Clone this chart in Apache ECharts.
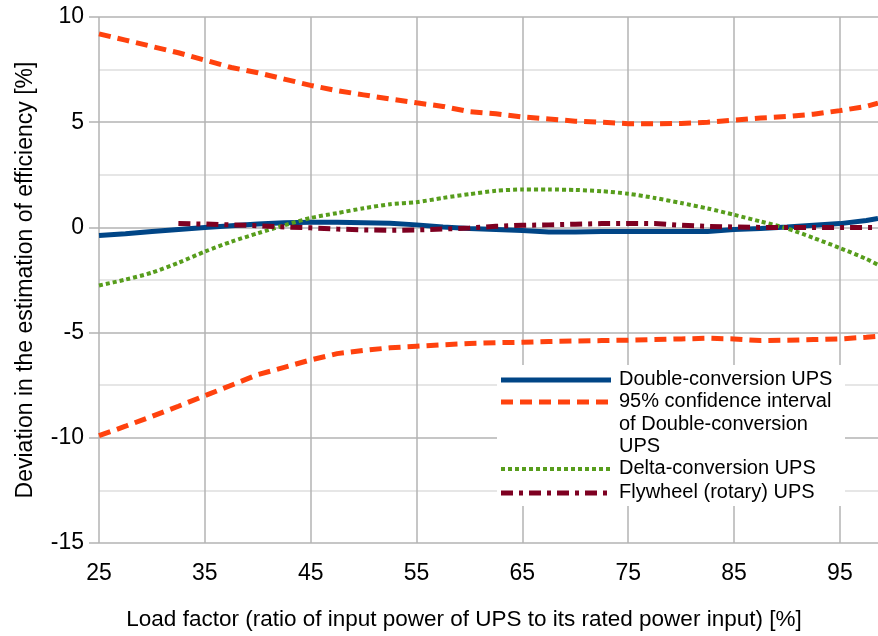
<!DOCTYPE html>
<html>
<head>
<meta charset="utf-8">
<script src="https://cdn.jsdelivr.net/npm/echarts@6/dist/echarts.min.js"></script>
<style>
  html, body { margin: 0; padding: 0; background: #fff; }
  #chart { width: 878px; height: 636px; }
</style>
</head>
<body>
<div id="chart"></div>
<script>
// load factor [%] sampled along the x axis
var loadFactor = [25, 27.5, 30, 32.5, 35, 37.5, 40, 42.5, 45, 47.5, 50, 52.5, 55, 57.5, 60, 62.5,
  65, 67.5, 70, 72.5, 75, 77.5, 80, 82.5, 85, 87.5, 90, 92.5, 95, 97.5, 98.6]

// deviation in the estimation of efficiency [%]
var doubleConv = [-0.38, -0.3, -0.2, -0.1, 0.0, 0.08, 0.16, 0.22, 0.24, 0.24, 0.22, 0.2, 0.12, 0.02, -0.05, -0.1,
  -0.15, -0.22, -0.22, -0.2, -0.2, -0.2, -0.2, -0.2, -0.1, -0.05, 0.02, 0.1, 0.18, 0.33, 0.43]
var ciUpper = [9.2, 8.9, 8.6, 8.3, 7.95, 7.6, 7.35, 7.05, 6.75, 6.5, 6.3, 6.1, 5.92, 5.75, 5.5, 5.4,
  5.25, 5.15, 5.05, 5.0, 4.93, 4.93, 4.94, 5.0, 5.1, 5.2, 5.27, 5.38, 5.55, 5.75, 5.9]
var ciLower = [-9.9, -9.45, -8.98, -8.5, -8.0, -7.5, -7.0, -6.65, -6.3, -6.0, -5.85, -5.72, -5.65, -5.58, -5.52, -5.48,
  -5.46, -5.42, -5.4, -5.38, -5.36, -5.33, -5.3, -5.27, -5.3, -5.38, -5.36, -5.33, -5.3, -5.22, -5.18]
var deltaConv = [-2.76, -2.48, -2.15, -1.68, -1.15, -0.68, -0.28, 0.1, 0.45, 0.68, 0.91, 1.1, 1.2, 1.4, 1.58, 1.74,
  1.8, 1.8, 1.78, 1.72, 1.6, 1.4, 1.16, 0.9, 0.6, 0.28, -0.05, -0.5, -0.98, -1.5, -1.78]
var flywheel = [null, null, null, 0.18, 0.16, 0.12, 0.08, 0.02, -0.02, -0.08, -0.12, -0.14, -0.12, -0.08, -0.03, 0.05,
  0.1, 0.12, 0.15, 0.18, 0.19, 0.18, 0.1, 0.05, 0.02, 0.0, 0.0, 0.0, 0.0, 0.0, 0.0]

var yTicks = { min: -15, max: 10, step: 5 }
var xTicks = { min: 25, max: 98.6, step: 10 }

var names = {
  dc: 'Double-conversion UPS',
  ci: '95% confidence interval of Double-conversion UPS',
  delta: 'Delta-conversion UPS',
  fly: 'Flywheel (rotary) UPS'
}

var styles = {
  dc: { color: '#004586', width: 5, dash: 'solid' },
  ci: { color: '#ff420e', width: 5, dash: [12, 7] },
  delta: { color: '#579d1c', width: 4, dash: [4, 3] },
  fly: { color: '#7e0021', width: 5, dash: [12, 6, 4, 6] }
}

function pairs (ys) {
  var out = []
  for (var i = 0; i < loadFactor.length; i++) {
    if (ys[i] !== null) out.push([loadFactor[i], ys[i]])
  }
  return out
}

function lineSeries (name, ys, st, smooth) {
  return {
    name: name,
    type: 'line',
    symbol: 'none',
    smooth: smooth || false,
    data: pairs(ys),
    lineStyle: { color: st.color, width: st.width, type: st.dash, cap: 'butt' },
    itemStyle: { color: st.color },
    silent: true
  }
}

// legend drawn by hand so the wrapped entry keeps its key on the first line
var legendRows = [
  { key: 'dc', text: 'Double-conversion UPS', y: 380 },
  { key: 'ci', text: '95% confidence interval\nof Double-conversion\nUPS', y: 402 },
  { key: 'delta', text: 'Delta-conversion UPS', y: 469 },
  { key: 'fly', text: 'Flywheel (rotary) UPS', y: 493 }
]

var legendGraphics = [{
  type: 'rect',
  shape: { x: 497, y: 365, width: 348, height: 141 },
  style: { fill: '#fff' },
  z: 100
}]
legendRows.forEach(function (r) {
  var st = styles[r.key]
  legendGraphics.push({
    type: 'line',
    shape: { x1: 501, y1: r.y, x2: 611, y2: r.y },
    style: { stroke: st.color, lineWidth: st.width, lineDash: st.dash === 'solid' ? null : st.dash, lineCap: 'butt' },
    z: 101
  })
  legendGraphics.push({
    type: 'text',
    x: 619,
    y: r.y - 11.5,
    style: {
      text: r.text,
      fontSize: 20,
      fontFamily: 'Liberation Sans',
      fill: '#000',
      lineHeight: 22.5,
      verticalAlign: 'top'
    },
    z: 101
  })
})

var chart = echarts.init(document.getElementById('chart'))

var option = {
  animation: false,
  textStyle: { fontFamily: 'Liberation Sans' },
  grid: { left: 99, right: 0, top: 17, bottom: 93, containLabel: false },
  xAxis: {
    type: 'value',
    min: xTicks.min,
    max: xTicks.max,
    interval: xTicks.step,
    axisLine: { show: false },
    axisTick: { show: false },
    axisLabel: { fontSize: 23, color: '#000', margin: 19, showMaxLabel: false },
    splitLine: { show: true, showMaxLine: false, lineStyle: { color: '#b3b3b3', width: 1.5 } }
  },
  yAxis: {
    type: 'value',
    min: yTicks.min,
    max: yTicks.max,
    interval: yTicks.step,
    name: 'Deviation in the estimation of efficiency [%]',
    nameLocation: 'middle',
    nameGap: 62,
    nameTextStyle: { fontSize: 23, color: '#000' },
    axisLine: { show: false },
    axisTick: { show: true, length: 10, lineStyle: { color: '#b3b3b3', width: 1.5 } },
    axisLabel: { fontSize: 23, color: '#000', margin: 15 },
    splitLine: { show: true, lineStyle: { color: '#b3b3b3', width: 1.5 } },
    minorTick: { show: false, splitNumber: 2 },
    minorSplitLine: { show: true, lineStyle: { color: '#dedede', width: 1.5 } }
  },
  graphic: legendGraphics.concat([{
    type: 'text',
    x: 464,
    y: 620,
    style: {
      text: 'Load factor (ratio of input power of UPS to its rated power input) [%]',
      fontSize: 22.5,
      fontFamily: 'Liberation Sans',
      fill: '#000',
      align: 'center',
      verticalAlign: 'middle'
    }
  }]),
  series: [
    lineSeries(names.dc, doubleConv, styles.dc),
    lineSeries(names.ci, ciUpper, styles.ci),
    lineSeries(names.ci, ciLower, styles.ci),
    lineSeries(names.delta, deltaConv, styles.delta, 0.25),
    lineSeries(names.fly, flywheel, styles.fly)
  ]
}

chart.setOption(option)
</script>
</body>
</html>
